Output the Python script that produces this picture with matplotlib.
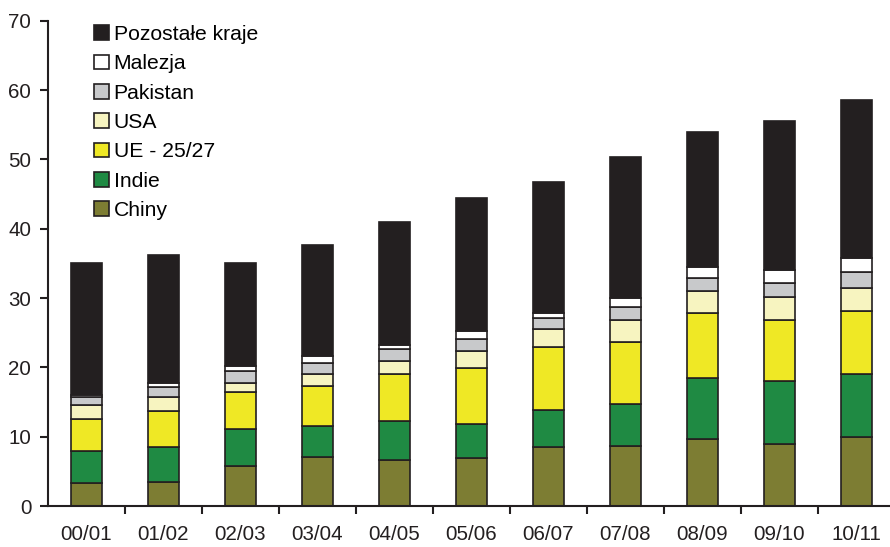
import matplotlib
matplotlib.use('Agg')
import matplotlib.pyplot as plt
import numpy as np

plt.rcParams['font.family'] = ['Liberation Sans', 'DejaVu Sans']

seasons = ['00/01', '01/02', '02/03', '03/04', '04/05', '05/06',
           '06/07', '07/08', '08/09', '09/10', '10/11']

# segment values (stacked bottom to top)
chiny = [3.3, 3.5, 5.7, 7.1, 6.6, 6.9, 8.5, 8.7, 9.7, 9.0, 10.0]
indie = [4.7, 5.0, 5.4, 4.5, 5.7, 4.9, 5.3, 6.0, 8.8, 9.1, 9.1]
ue = [4.6, 5.2, 5.3, 5.7, 6.8, 8.1, 9.1, 9.0, 9.3, 8.8, 9.0]
usa = [1.9, 2.0, 1.4, 1.8, 1.8, 2.4, 2.6, 3.1, 3.2, 3.3, 3.3]
pakistan = [1.2, 1.4, 1.7, 1.5, 1.7, 1.8, 1.6, 1.9, 1.9, 2.0, 2.3]
malezja = [0.3, 0.6, 0.7, 1.1, 0.6, 1.1, 0.8, 1.3, 1.6, 1.9, 2.0]
totals = [35.0, 36.2, 35.0, 37.7, 40.9, 44.4, 46.8, 50.3, 53.9, 55.6, 58.6]

series = [
    ('Chiny', chiny, '#7d7d33'),
    ('Indie', indie, '#1f8a43'),
    ('UE - 25/27', ue, '#efe825'),
    ('USA', usa, '#f7f4c0'),
    ('Pakistan', pakistan, '#c8c9cb'),
    ('Malezja', malezja, '#ffffff'),
]
edge = '#231f20'

fig = plt.figure(figsize=(8.9, 5.47), dpi=100)
ax = fig.add_axes([48 / 890, 41 / 547, 847 / 890, 485.3 / 547])

x = np.arange(len(seasons))
bottom = np.zeros(len(seasons))
handles = []
for name, vals, color in series:
    b = ax.bar(x, vals, 0.4, bottom=bottom, color=color, edgecolor=edge,
               linewidth=1.2, label=name)
    handles.append(b)
    bottom += np.array(vals)

rest = np.array(totals) - bottom
b = ax.bar(x, rest, 0.4, bottom=bottom, color=edge, edgecolor=edge,
           linewidth=1.2, label='Pozostałe kraje')
handles.append(b)

ax.set_xlim(-0.5, 10.5)
ax.set_ylim(0, 70)
ax.set_yticks(range(0, 71, 10))
ax.set_xticks(x)
ax.set_xticklabels(seasons)
ax.set_xticks(np.arange(0.5, 10.5, 1), minor=True)
ax.tick_params(axis='x', which='major', length=0, pad=14, labelsize=14.8,
               labelcolor='#231f20')
ax.tick_params(axis='x', which='minor', length=6, width=1.5, color=edge)
ax.tick_params(axis='y', length=6, width=1.5, color=edge, labelsize=14.8,
               labelcolor='#231f20', pad=6)

for side in ['top', 'right']:
    ax.spines[side].set_visible(False)
for side in ['left', 'bottom']:
    ax.spines[side].set_linewidth(1.5)
    ax.spines[side].set_color(edge)

ax.legend(handles[::-1], [h.get_label() for h in handles[::-1]],
          loc='upper left', bbox_to_anchor=(94 / 890, 1 - 25 / 547),
          bbox_transform=fig.transFigure, frameon=False, borderpad=0,
          borderaxespad=0, fontsize=15.2, handlelength=0.71,
          handleheight=0.71, handletextpad=0.22, labelspacing=0.49)

fig.savefig('out.png', dpi=100)
